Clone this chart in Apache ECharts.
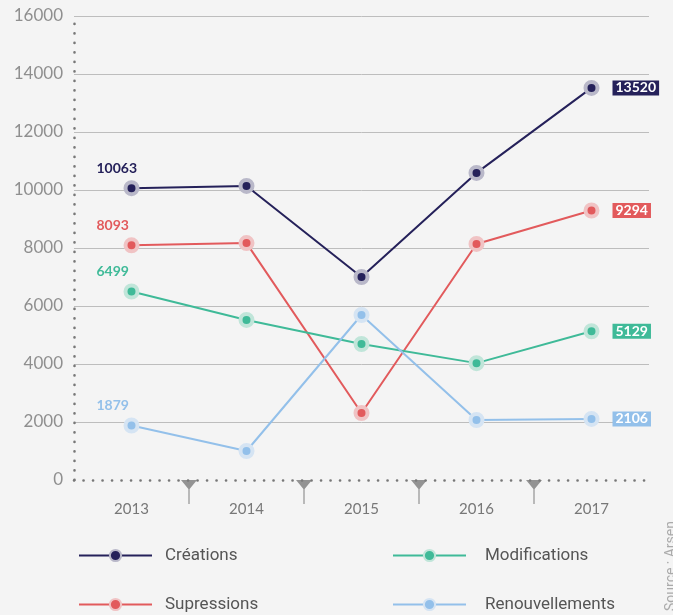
<!DOCTYPE html>
<html>
<head>
<meta charset="utf-8">
<script src="https://cdn.jsdelivr.net/npm/echarts@6/dist/echarts.min.js"></script>
<style>
html,body{margin:0;padding:0;background:#f4f4f4;}
#chart{width:673px;height:615px;}
</style>
</head>
<body>
<div id="chart"></div>
<script>
var years = ['2013', '2014', '2015', '2016', '2017'];
var creations = [10063, 10140, 7000, 10590, 13520];
var supressions = [8093, 8170, 2310, 8140, 9294];
var modifications = [6499, 5520, 4690, 4030, 5129];
var renouvellements = [1879, 1000, 5690, 2070, 2106];
var tickPositions = [0.5, 1.5, 2.5, 3.5];

var seriesDefs = [
  {name: 'Créations', data: creations, color: '#25215a', halo: '#b9b8c9'},
  {name: 'Supressions', data: supressions, color: '#e25a5c', halo: '#f0c3c4'},
  {name: 'Modifications', data: modifications, color: '#3fba98', halo: '#c0e5d9'},
  {name: 'Renouvellements', data: renouvellements, color: '#93c0ea', halo: '#d5e4f3'}
];

var labelFont = 'Lato, "DejaVu Sans", sans-serif';

var series = seriesDefs.map(function (s) {
  var last = s.data.length - 1;
  return {
    name: s.name,
    type: 'line',
    xAxisIndex: 0,
    data: s.data.map(function (v, i) {
      var item = {value: v};
      if (i === 0) {
        item.label = {
          show: true, position: 'top', align: 'left', offset: [-35, 0],
          color: s.color, fontSize: 14, fontWeight: 'bold', fontFamily: labelFont
        };
      } else if (i === last) {
        item.label = {
          show: true, position: 'right', distance: 13,
          color: '#ffffff', backgroundColor: s.color, padding: [1, 3, 0, 3],
          fontSize: 14, fontWeight: 'bold', fontFamily: labelFont, lineHeight: 14
        };
      }
      return item;
    }),
    symbol: 'circle',
    symbolSize: 12,
    lineStyle: {color: s.color, width: 2},
    itemStyle: {color: s.color, borderColor: s.halo, borderWidth: 4},
    label: {show: false},
    emphasis: {disabled: true},
    z: 3
  };
});

series.push({
  name: 'ticks',
  type: 'scatter',
  xAxisIndex: 1,
  data: tickPositions.map(function (p) { return [p, 0]; }),
  symbol: 'path://M0,0 L16,0 L8.6,9 L8.6,24 L7.4,24 L7.4,9 Z',
  symbolSize: [16, 24],
  symbolOffset: [0, 12],
  itemStyle: {color: '#7a7a7a'},
  silent: true,
  z: 4
});

function legendText(pad) {
  return {
    fontSize: 17, color: '#555555',
    fontFamily: '"Liberation Sans Narrow", Roboto, sans-serif',
    padding: [0, 0, 0, pad]
  };
}

var chart = echarts.init(document.getElementById('chart'));
chart.setOption({
  backgroundColor: '#f4f4f4',
  animation: false,
  grid: {left: 74, right: 24, top: 16, bottom: 135, containLabel: false},
  xAxis: [{
    type: 'category',
    data: years,
    boundaryGap: true,
    axisLine: {show: true, onZero: false, lineStyle: {color: '#777777', width: 2.6, type: [0.1, 9.4], cap: 'round'}},
    axisTick: {show: false},
    axisLabel: {margin: 22, color: '#777777', fontSize: 15, fontFamily: labelFont},
    splitLine: {show: false}
  }, {
    type: 'value',
    min: -0.5, max: 4.5,
    show: false
  }],
  yAxis: {
    type: 'value',
    min: 0, max: 16000, interval: 2000,
    axisLine: {show: true, onZero: false, lineStyle: {color: '#777777', width: 2.6, type: [0.1, 9.4], cap: 'round'}},
    axisTick: {show: false},
    axisLabel: {margin: 11, color: '#8f8f8f', fontSize: 17, fontFamily: labelFont,
      formatter: function (v) { return String(v); }},
    splitLine: {show: true, showMinLine: false, lineStyle: {color: '#bdbdbd', width: 1}}
  },
  legend: [{
    left: 78, top: 547, orient: 'vertical', itemGap: 32, padding: 0, height: 100,
    itemWidth: 73, itemHeight: 14,
    data: ['Créations', 'Supressions'],
    textStyle: legendText(8), selectedMode: false
  }, {
    left: 392, top: 547, orient: 'vertical', itemGap: 32, padding: 0, height: 100,
    itemWidth: 73, itemHeight: 14,
    data: ['Modifications', 'Renouvellements'],
    textStyle: legendText(14), selectedMode: false
  }],
  graphic: [{
    type: 'text',
    x: 671, y: 611,
    rotation: Math.PI / 2,
    style: {
      text: 'Source : Arsen', fill: '#aaaaaa', fontSize: 14,
      fontFamily: '"Liberation Sans Narrow", Roboto, sans-serif',
      textAlign: 'left', textVerticalAlign: 'middle'
    }
  }],
  series: series
});
</script>
</body>
</html>
